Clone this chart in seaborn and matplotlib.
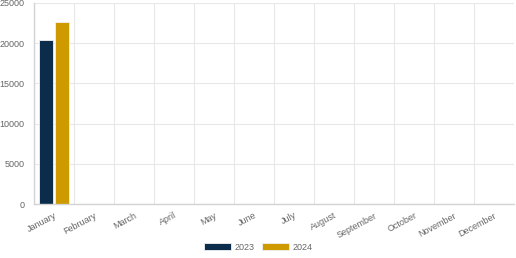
import numpy as np
import pandas as pd
import matplotlib
matplotlib.use("Agg")
import matplotlib.pyplot as plt
import seaborn as sns

months = ["January", "February", "March", "April", "May", "June", "July",
          "August", "September", "October", "November", "December"]
series_2023 = [20400] + [np.nan] * 11
series_2024 = [22600] + [np.nan] * 11
years = ["2023", "2024"]
colors = ["#0b2c4a", "#cf9a00"]
y_ticks = [0, 5000, 10000, 15000, 20000, 25000]

df = pd.DataFrame({
    "month": months * 2,
    "year": [years[0]] * 12 + [years[1]] * 12,
    "value": series_2023 + series_2024,
})

sns.set_theme(style="white")
plt.rcParams['font.family'] = ['Liberation Sans', 'DejaVu Sans']

fig = plt.figure(figsize=(5.16, 2.58), dpi=100)
ax = fig.add_axes([34 / 516, 1 - 204 / 258, 480 / 516, 201 / 258])

sns.barplot(data=df, x="month", y="value", hue="year", order=months,
            hue_order=years, palette=colors, saturation=1, width=0.76, gap=0.08,
            edgecolor="#f2f2f2", linewidth=0.6, ax=ax, legend=False)

ax.set_xlim(-0.5, 11.5)
ax.set_ylim(0, 25000)
ax.set_yticks(y_ticks)
ax.set_yticklabels([str(t) for t in y_ticks], fontsize=6.5, color="#666666")
ax.set_xticks(range(12))
ax.set_xticklabels(months, rotation=28, ha="right", rotation_mode="anchor",
                   fontsize=6.5, color="#666666")
ax.set_xticks(np.arange(-0.5, 12, 1), minor=True)
ax.tick_params(axis="x", which="major", length=0, pad=5)
ax.tick_params(axis="x", which="minor", length=5, color="#e6e6e6", width=0.8)
ax.tick_params(axis="y", length=5, color="#e6e6e6", width=0.8, pad=2)
ax.set_xlabel("")
ax.set_ylabel("")

for x in np.arange(-0.5, 12, 1):
    ax.axvline(x, color="#e8e8e8", lw=0.8, zorder=0)
for y in y_ticks:
    ax.axhline(y, color="#e8e8e8", lw=0.8, zorder=0)

for s in ["top", "right"]:
    ax.spines[s].set_visible(False)
ax.spines["left"].set_color("#d4d4d4")
ax.spines["bottom"].set_color("#d4d4d4")
ax.spines["left"].set_linewidth(1.0)
ax.spines["bottom"].set_linewidth(1.0)

handles = [plt.Rectangle((0, 0), 1, 1, facecolor=c, edgecolor="#f2f2f2", lw=0.6)
           for c in colors]
fig.legend(handles, years, loc="center", bbox_to_anchor=(0.5, 1 - 247 / 258),
           ncol=2, frameon=False, fontsize=6.5, handlelength=3.0,
           handleheight=0.9, columnspacing=0.8, handletextpad=0.4,
           labelcolor="#666666")

fig.savefig("out.png", dpi=100)
